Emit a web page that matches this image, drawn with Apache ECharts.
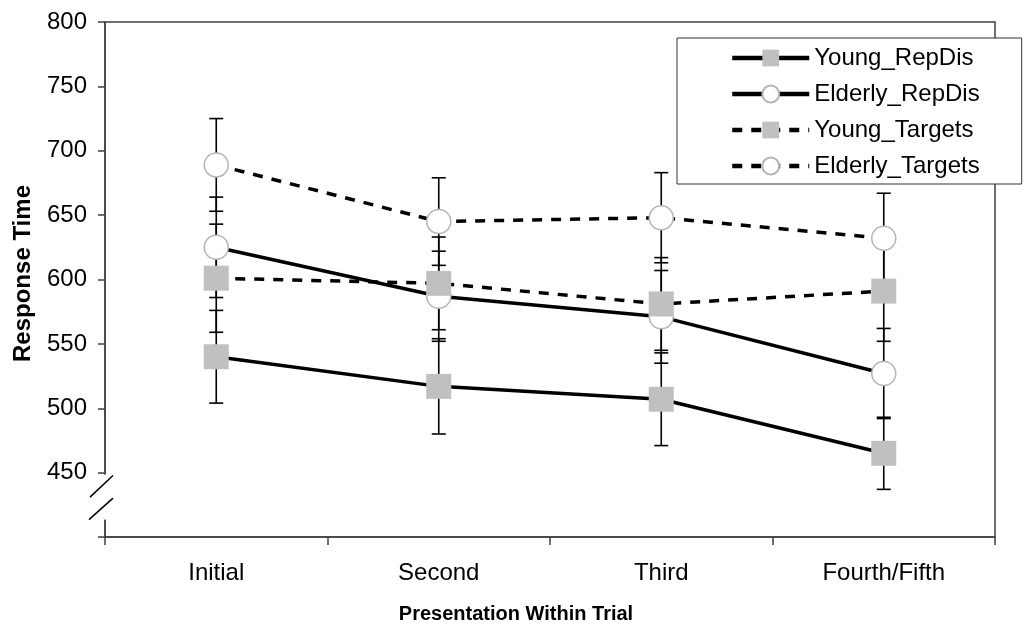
<!DOCTYPE html>
<html>
<head>
<meta charset="utf-8">
<title>Response Time</title>
<script src="https://cdn.jsdelivr.net/npm/echarts@6/dist/echarts.min.js"></script>
<style>
  html, body { margin: 0; padding: 0; background: #fff; }
  #main { width: 1029px; height: 626px; }
</style>
</head>
<body>
<div id="main"></div>
<script>
// categories on the x axis
var presentations = ['Initial', 'Second', 'Third', 'Fourth/Fifth'];
var seriesNames = ['Young_RepDis', 'Elderly_RepDis', 'Young_Targets', 'Elderly_Targets'];

// mean response times
var youngRepDis = [540, 517, 507, 465];
var elderlyRepDis = [625, 587, 571, 527];
var youngTargets = [601, 597, 581, 591];
var elderlyTargets = [689, 645, 648, 632];

// error bar half-lengths
var youngRepDisErr = [36, 37, 36, 28];
var elderlyRepDisErr = [39, 35, 36, 35];
var youngTargetsErr = [42, 36, 36, 39];
var elderlyTargetsErr = [36, 34, 35, 35];

var FONT = "'Liberation Sans', Arial, sans-serif";
var gridLeft = 105;
var axisColor = '#404040';

// rows for the error bar series: [category index, low, high]
var errorRows = [];
[[youngRepDis, youngRepDisErr], [elderlyRepDis, elderlyRepDisErr],
 [youngTargets, youngTargetsErr], [elderlyTargets, elderlyTargetsErr]].forEach(function (pair) {
  pair[0].forEach(function (v, i) {
    errorRows.push([i, v - pair[1][i], v + pair[1][i]]);
  });
});

function renderErrorBar(params, api) {
  var idx = api.value(0);
  var lo = api.coord([idx, api.value(1)]);
  var hi = api.coord([idx, api.value(2)]);
  var half = 7;
  var style = { stroke: '#000', lineWidth: 1.6 };
  return {
    type: 'group',
    children: [
      { type: 'line', shape: { x1: hi[0], y1: hi[1], x2: lo[0], y2: lo[1] }, style: style },
      { type: 'line', shape: { x1: hi[0] - half, y1: hi[1], x2: hi[0] + half, y2: hi[1] }, style: style },
      { type: 'line', shape: { x1: lo[0] - half, y1: lo[1], x2: lo[0] + half, y2: lo[1] }, style: style }
    ]
  };
}

var squareStyle = { color: '#c0c0c0', borderWidth: 0 };
var circleStyle = { color: '#ffffff', borderColor: '#b5b5b5', borderWidth: 1.5 };
var dash = [10, 9];

function lineSeries(name, data, symbol, dashed) {
  return {
    name: name,
    type: 'line',
    data: data,
    symbol: symbol,
    symbolSize: symbol === 'rect' ? 25 : 24,
    itemStyle: symbol === 'rect' ? squareStyle : circleStyle,
    lineStyle: { color: '#000', width: 3.5, type: dashed ? dash : 'solid' },
    z: 3
  };
}

var chart = echarts.init(document.getElementById('main'));

var option = {
  animation: false,
  backgroundColor: '#fff',
  grid: {
    left: gridLeft, right: 34, top: 22, bottom: 89,
    outerBoundsMode: 'none',
    show: true, borderColor: axisColor, borderWidth: 1.5
  },
  legend: {
    data: seriesNames,
    orient: 'vertical',
    left: 677,
    top: 38,
    padding: [8, 42, 6, 53],
    itemWidth: 77,
    itemHeight: 21,
    itemGap: 12,
    selectedMode: false,
    backgroundColor: '#fff',
    borderColor: '#333',
    borderWidth: 1,
    lineStyle: { width: 4.5 },
    textStyle: { fontFamily: FONT, fontSize: 24, color: '#000', lineHeight: 24 }
  },
  xAxis: {
    type: 'category',
    data: presentations,
    boundaryGap: true,
    name: 'Presentation Within Trial',
    nameLocation: 'middle',
    nameGap: 67,
    nameTextStyle: { fontFamily: FONT, fontSize: 20, fontWeight: 'bold', color: '#000', padding: [0, 68, 0, 0] },
    axisLine: { lineStyle: { color: axisColor, width: 1.5 } },
    axisTick: { show: true, length: 8, lineStyle: { color: axisColor, width: 1.5 } },
    axisLabel: { fontFamily: FONT, fontSize: 24, color: '#000', margin: 24 }
  },
  yAxis: {
    type: 'value',
    min: 400,
    max: 800,
    interval: 50,
    name: 'Response Time',
    nameLocation: 'middle',
    nameGap: 70,
    nameTextStyle: { fontFamily: FONT, fontSize: 24, fontWeight: 'bold', color: '#000', padding: [0, 0, 0, 12] },
    splitLine: { show: false },
    axisLine: { show: true, lineStyle: { color: axisColor, width: 1.5 } },
    axisTick: { show: true, length: 7, lineStyle: { color: axisColor, width: 1.5 } },
    axisLabel: {
      fontFamily: FONT, fontSize: 24, color: '#000', margin: 18,
      formatter: function (v) { return v === 400 ? '' : String(v); }
    }
  },
  series: [
    {
      name: 'errorBars',
      type: 'custom',
      renderItem: renderErrorBar,
      data: errorRows,
      encode: { x: 0, y: [1, 2] },
      z: 1,
      silent: true
    },
    lineSeries('Young_RepDis', youngRepDis, 'rect', false),
    lineSeries('Elderly_RepDis', elderlyRepDis, 'circle', false),
    lineSeries('Young_Targets', youngTargets, 'rect', true),
    lineSeries('Elderly_Targets', elderlyTargets, 'circle', true)
  ]
};

chart.setOption(option);

// axis break marks just below 450
var yGapTop = chart.convertToPixel({ yAxisIndex: 0 }, 448.5);
var yGapBot = chart.convertToPixel({ yAxisIndex: 0 }, 413.5);
var slashStyle = { stroke: '#000', lineWidth: 1.5 };
var mid = (yGapTop + yGapBot) / 2;
chart.setOption({
  graphic: [
    { type: 'rect', z: 100, shape: { x: gridLeft - 3, y: yGapTop, width: 6, height: yGapBot - yGapTop }, style: { fill: '#fff' } },
    { type: 'line', z: 101, shape: { x1: gridLeft - 15, y1: mid, x2: gridLeft + 8, y2: yGapTop + 1 }, style: slashStyle },
    { type: 'line', z: 101, shape: { x1: gridLeft - 16, y1: yGapBot, x2: gridLeft + 8, y2: mid + 1 }, style: slashStyle }
  ]
});
</script>
</body>
</html>
